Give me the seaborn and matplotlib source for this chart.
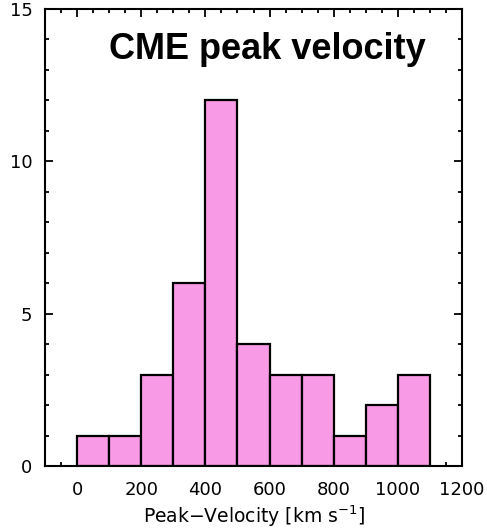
import numpy as np
import matplotlib
matplotlib.use("Agg")
import matplotlib.pyplot as plt
import seaborn as sns
from matplotlib.ticker import MultipleLocator

# --- Data ---
bin_edges = [0, 100, 200, 300, 400, 500, 600, 700, 800, 900, 1000, 1100]
bin_counts = [1, 1, 3, 6, 12, 4, 3, 3, 1, 2, 3]
x_ticks = [0, 200, 400, 600, 800, 1000, 1200]
y_ticks = [0, 5, 10, 15]
title_text = "CME peak velocity"
x_label = "Peak\u2212Velocity [km s$^{-1}$]"

bin_centers = [(a + b) / 2 for a, b in zip(bin_edges[:-1], bin_edges[1:])]

sns.set_style("ticks")
plt.rcParams['font.family'] = ['DejaVu Sans']
plt.rcParams['text.color'] = 'black'
plt.rcParams['axes.labelcolor'] = 'black'

fig = plt.figure(figsize=(4.87, 5.28), dpi=100)
ax = fig.add_axes([0.0924, 0.1174, 0.8563, 0.8656])

sns.histplot(
    x=bin_centers,
    weights=bin_counts,
    bins=bin_edges,
    color="#F99AE6",
    alpha=1.0,
    edgecolor="black",
    linewidth=1.6,
    ax=ax,
)

ax.set_xlim(-100, 1200)
ax.set_ylim(0, 15)
ax.set_xticks(x_ticks)
ax.set_yticks(y_ticks)
ax.xaxis.set_minor_locator(MultipleLocator(50))
ax.yaxis.set_minor_locator(MultipleLocator(1))
ax.tick_params(which="both", direction="in", top=True, right=True,
               labelsize=13, width=1.3, colors="black")
ax.tick_params(which="major", length=6)
ax.tick_params(which="minor", length=3)
ax.tick_params(axis="x", which="major", pad=11)
ax.tick_params(axis="y", which="major", pad=9)
for s in ax.spines.values():
    s.set_linewidth(1.5)
    s.set_color("black")

ax.set_ylabel("")
ax.set_xlabel(x_label, fontsize=13.5, labelpad=3)

ax.text(0.534, 0.912, title_text, transform=ax.transAxes, ha="center", va="center",
        fontsize=26, fontweight="bold", color="black",
        family=["Liberation Sans", "DejaVu Sans"])

plt.savefig("out.png", dpi=100)
